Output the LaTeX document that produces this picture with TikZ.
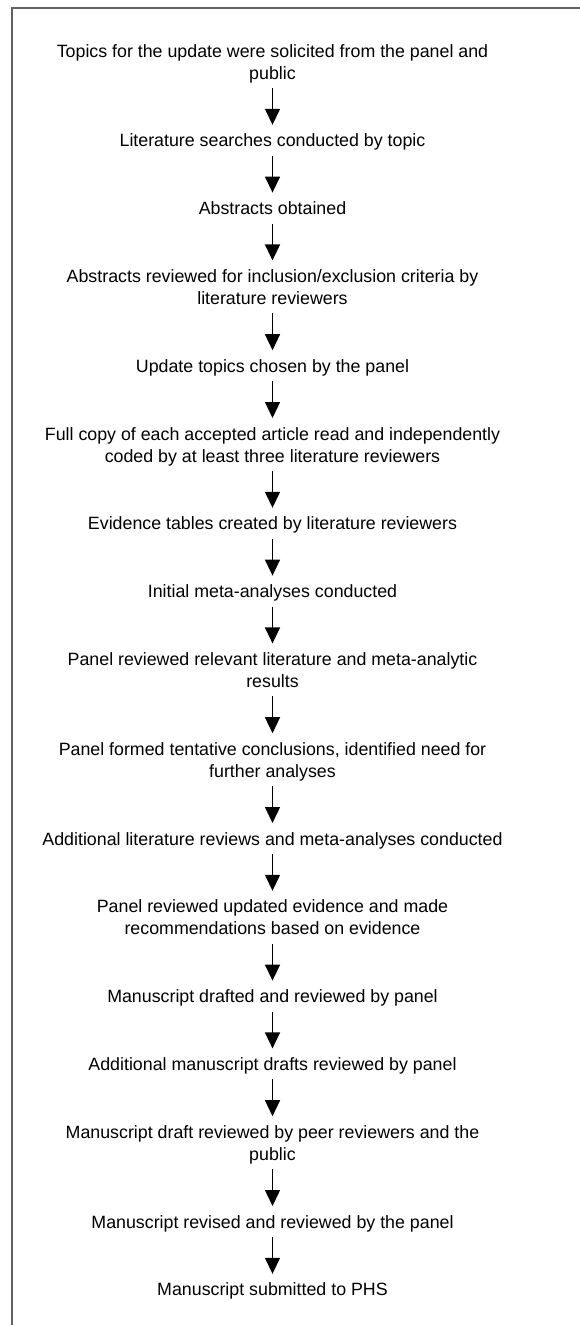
\documentclass[tikz,border=0pt]{standalone}
\usepackage{fontspec}
\setmainfont{Liberation Sans}
\usetikzlibrary{positioning,arrows.meta}
\newcommand\tstrut{\rule{0pt}{22pt}}
\newcommand\bstrut{\rule[-9pt]{0pt}{9pt}}
\tikzset{
  stepbox/.style={inner sep=0pt, outer sep=0pt, align=center, text=black,
    font=\fontsize{17.8pt}{22pt}\selectfont},
  flowarrow/.style={line width=1.4pt, -{Triangle[width=15pt,length=16pt]}},
  framestyle/.style={draw=black!62, line width=1.6pt},
}
\begin{document}
\begin{tikzpicture}[x=1pt,y=-1pt, node distance=36.8pt]
\useasboundingbox (0,0) rectangle (580,1325);
\draw[framestyle] (12,1330) -- (12,8) -- (585,8);
\node[stepbox, anchor=north] (s1) at (272.5,35) {\tstrut Topics for the update were solicited from the panel and\\ public\bstrut};
\node[stepbox, below=of s1] (s2) {\tstrut Literature searches conducted by topic\bstrut};
\node[stepbox, below=of s2] (s3) {\tstrut Abstracts obtained\bstrut};
\node[stepbox, below=of s3] (s4) {\tstrut Abstracts reviewed for inclusion/exclusion criteria by\\ literature reviewers\bstrut};
\node[stepbox, below=of s4] (s5) {\tstrut Update topics chosen by the panel\bstrut};
\node[stepbox, below=of s5] (s6) {\tstrut Full copy of each accepted article read and independently\\ coded by at least three literature reviewers\bstrut};
\node[stepbox, below=of s6] (s7) {\tstrut Evidence tables created by literature reviewers\bstrut};
\node[stepbox, below=of s7] (s8) {\tstrut Initial meta-analyses conducted\bstrut};
\node[stepbox, below=of s8] (s9) {\tstrut Panel reviewed relevant literature and meta-analytic\\ results\bstrut};
\node[stepbox, below=of s9] (s10) {\tstrut Panel formed tentative conclusions, identified need for\\ further analyses\bstrut};
\node[stepbox, below=of s10] (s11) {\tstrut Additional literature reviews and meta-analyses conducted\bstrut};
\node[stepbox, below=of s11] (s12) {\tstrut Panel reviewed updated evidence and made\\ recommendations based on evidence\bstrut};
\node[stepbox, below=of s12] (s13) {\tstrut Manuscript drafted and reviewed by panel\bstrut};
\node[stepbox, below=of s13] (s14) {\tstrut Additional manuscript drafts reviewed by panel\bstrut};
\node[stepbox, below=of s14] (s15) {\tstrut Manuscript draft reviewed by peer reviewers and the\\ public\bstrut};
\node[stepbox, below=of s15] (s16) {\tstrut Manuscript revised and reviewed by the panel\bstrut};
\node[stepbox, below=of s16] (s17) {\tstrut Manuscript submitted to PHS\bstrut};
\foreach \a/\b in {s1/s2,s2/s3,s3/s4,s4/s5,s5/s6,s6/s7,s7/s8,s8/s9,s9/s10,s10/s11,s11/s12,s12/s13,s13/s14,s14/s15,s15/s16,s16/s17}
  \draw[flowarrow] (\a.south) -- (\b.north);
\end{tikzpicture}
\end{document}
